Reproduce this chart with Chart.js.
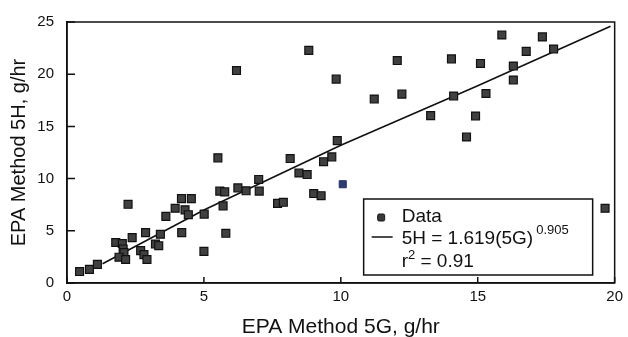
<!DOCTYPE html>
<html>
<head>
<meta charset="utf-8">
<script src="https://cdn.jsdelivr.net/npm/chart.js@4/dist/chart.umd.min.js"></script>
<style>
    html, body { margin: 0; padding: 0; background: #fff; }
    #wrap { width: 628px; height: 337px; }
</style>
</head>
<body>
<div id="wrap"><canvas id="chart"></canvas></div>
<script>
// values
const method5G = [8.83, 6.19, 9.83, 9.87, 5.51, 8.15, 9.67, 9.37,
    15.88, 17.36, 16.77, 17.77, 12.06, 14.04, 15.10, 16.30, 16.30,
    11.22, 12.23, 14.12, 15.30, 13.28, 14.92, 14.59, 19.65,
    7.00, 8.47, 8.77, 5.58, 5.76, 6.24, 6.54, 7.02, 7.69, 7.90, 9.01, 9.28, 5.70, 5.01,
    2.23, 4.18, 4.54, 3.95, 3.61, 4.31, 4.43, 5.80, 4.19, 5.00,
    2.87, 3.41, 2.38, 1.78, 2.02, 2.05, 2.08, 1.90, 2.14, 2.69, 2.81, 2.92, 3.23, 3.35,
    0.46, 0.82, 1.11];
const method5H = [22.28, 20.35, 19.53, 13.64, 11.99, 11.92, 12.08, 11.62,
    23.76, 23.57, 22.19, 22.41, 21.31, 21.47, 21.03, 20.78, 19.44,
    17.62, 18.09, 17.91, 18.15, 16.03, 15.99, 13.99, 7.16,
    9.92, 10.54, 10.39, 8.80, 8.73, 9.11, 8.83, 8.80, 7.63, 7.73, 8.57, 8.36, 7.39, 6.60,
    7.54, 8.08, 8.08, 7.16, 6.38, 7.01, 6.54, 4.76, 4.82, 3.03,
    4.82, 4.67, 4.35, 3.88, 3.78, 3.26, 2.91, 2.47, 2.25, 3.10, 2.72, 2.25, 3.73, 3.57,
    1.10, 1.31, 1.78];
// the one square that came out blue in the scan
const blue5G = [10.07];
const blue5H = [9.46];

// fitted curve, points
const fit5G = [1.3, 5, 10, 15, 19.85];
const fit5H = [1.85, 7.0, 13.2, 18.9, 24.6];

const xTicks = [0, 5, 10, 15, 20];
const yTicks = [0, 5, 10, 15, 20, 25];

const ink = '#111';
const fontFamily = '"Liberation Sans", Arial, Helvetica, sans-serif';

const toPoints = (xs, ys) => xs.map((x, i) => ({ x: x, y: ys[i] }));

// box round the plot and short ticks pointing inward
const framePlugin = {
    id: 'frame',
    afterDraw(chart) {
        const { ctx, chartArea: a, scales } = chart;
        ctx.save();
        ctx.strokeStyle = ink;
        ctx.lineWidth = 1.5;
        ctx.strokeRect(a.left, a.top, a.right - a.left, a.bottom - a.top);
        ctx.beginPath();
        yTicks.forEach(v => {
            const y = scales.y.getPixelForValue(v);
            ctx.moveTo(a.left, y);
            ctx.lineTo(a.left + 8, y);
        });
        xTicks.forEach(v => {
            const x = scales.x.getPixelForValue(v);
            ctx.moveTo(x, a.bottom);
            ctx.lineTo(x, a.bottom - 6);
        });
        ctx.stroke();
        ctx.restore();
    }
};

// legend box with the fit equation (needs superscripts)
const legendPlugin = {
    id: 'fitLegend',
    afterDraw(chart) {
        const { ctx, chartArea: a } = chart;
        const left = a.right - 251, top = a.top + 177;
        const w = 229, h = 76;
        const big = '19px ' + fontFamily;
        const small = '13px ' + fontFamily;
        ctx.save();
        ctx.fillStyle = '#fff';
        ctx.fillRect(left, top, w, h);
        ctx.strokeStyle = ink;
        ctx.lineWidth = 1.5;
        ctx.strokeRect(left, top, w, h);

        // row 1: marker + Data
        ctx.fillStyle = '#3a3a3a';
        ctx.strokeStyle = ink;
        ctx.lineWidth = 1;
        ctx.beginPath();
        ctx.roundRect(left + 14, top + 15, 7, 7, 1.5);
        ctx.fill();
        ctx.stroke();

        const tx = left + 38;
        ctx.fillStyle = ink;
        ctx.textBaseline = 'middle';
        ctx.font = big;
        ctx.fillText('Data', tx, top + 18);

        // row 2: line + equation
        ctx.lineWidth = 1.5;
        ctx.beginPath();
        ctx.moveTo(left + 8, top + 38);
        ctx.lineTo(left + 29, top + 38);
        ctx.stroke();
        const eq = '5H = 1.619(5G)';
        ctx.fillText(eq, tx, top + 40);
        const eqW = ctx.measureText(eq).width;
        ctx.font = small;
        ctx.fillText('0.905', tx + eqW + 3, top + 31);

        // row 3: r^2
        ctx.font = big;
        ctx.fillText('r', tx, top + 63);
        const rW = ctx.measureText('r').width;
        ctx.font = small;
        ctx.fillText('2', tx + rW, top + 56);
        const twoW = ctx.measureText('2').width;
        ctx.font = big;
        ctx.fillText(' = 0.91', tx + rW + twoW, top + 63);
        ctx.restore();
    }
};

new Chart(document.getElementById('chart'), {
    type: 'scatter',
    data: {
        datasets: [{
            label: 'Data',
            data: toPoints(method5G, method5H),
            pointStyle: 'rect',
            pointRadius: 5.6,
            backgroundColor: '#404040',
            borderColor: ink,
            borderWidth: 1.2
        },
        {
            label: 'Data (blue)',
            data: toPoints(blue5G, blue5H),
            pointStyle: 'rect',
            pointRadius: 5,
            backgroundColor: '#2f3c70',
            borderColor: '#233066',
            borderWidth: 1
        },
        {
            label: 'Fit',
            data: toPoints(fit5G, fit5H),
            showLine: true,
            borderColor: ink,
            borderWidth: 1.6,
            pointRadius: 0,
            tension: 0
        }]
    },
    options: {
        responsive: true,
        maintainAspectRatio: false,
        animation: false,
        layout: { padding: { left: 0, right: 11, top: 15, bottom: 0 } },
        plugins: {
            legend: { display: false },
            tooltip: { enabled: false }
        },
        scales: {
            x: {
                type: 'linear',
                min: 0,
                max: 20,
                afterBuildTicks: s => { s.ticks = xTicks.map(v => ({ value: v })); },
                afterFit: s => { s.height = 54; },
                grid: { display: true, drawOnChartArea: false, drawTicks: false },
                border: { color: ink, width: 1.5 },
                ticks: {
                    color: ink,
                    padding: 5,
                    font: { family: fontFamily, size: 15 }
                },
                title: {
                    display: true,
                    text: 'EPA Method 5G, g/hr',
                    color: ink,
                    padding: { top: 0, bottom: 0 },
                    font: { family: fontFamily, size: 21, lineHeight: 0.9 }
                }
            },
            y: {
                type: 'linear',
                min: 0,
                max: 25,
                afterBuildTicks: s => { s.ticks = yTicks.map(v => ({ value: v })); },
                afterFit: s => { s.width = 67; },
                grid: { display: true, drawOnChartArea: false, drawTicks: false },
                border: { color: ink, width: 1.5 },
                ticks: {
                    color: ink,
                    padding: 13,
                    font: { family: fontFamily, size: 15 }
                },
                title: {
                    display: true,
                    text: 'EPA Method 5H, g/hr',
                    color: ink,
                    padding: { top: 7, bottom: 0 },
                    font: { family: fontFamily, size: 20 }
                }
            }
        }
    },
    plugins: [framePlugin, legendPlugin]
});
</script>
</body>
</html>
